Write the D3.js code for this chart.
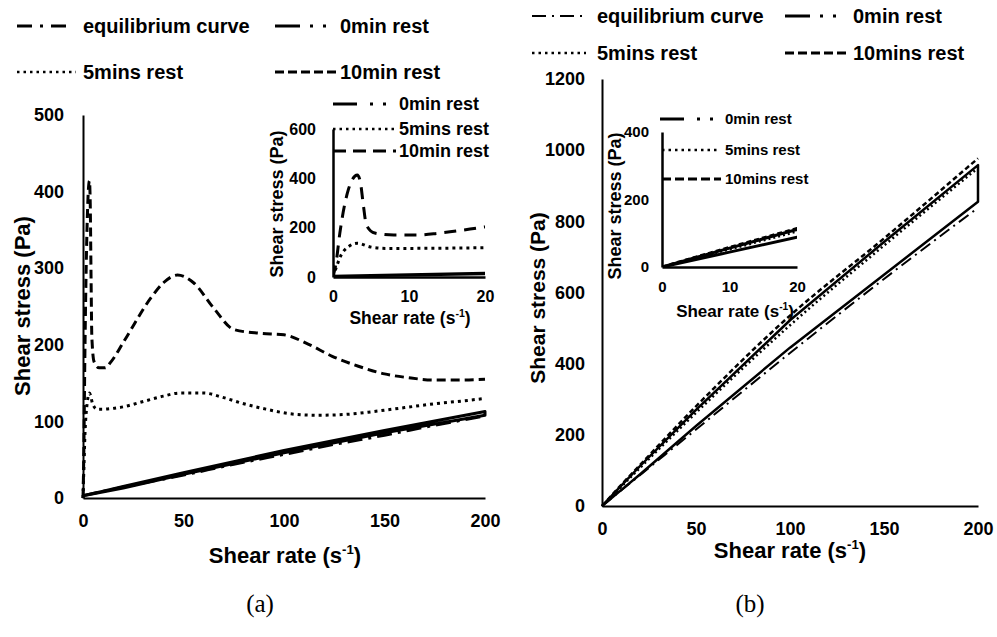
<!DOCTYPE html>
<html>
<head>
<meta charset="utf-8">
<script src="https://cdn.jsdelivr.net/npm/d3@7"></script>
<style>
body { margin: 0; background: #fff; }
svg text { font-family: "Liberation Sans", Arial, sans-serif; font-weight: bold; fill: #000; }
</style>
</head>
<body>
<div id="main"></div>
<script>
// tick values
const rateTicks = [0, 50, 100, 150, 200];
const stressTicksA = [0, 100, 200, 300, 400, 500];
const stressTicksB = [0, 200, 400, 600, 800, 1000, 1200];
const insetRateTicks = [0, 10, 20];
const insetStressTicksA = [0, 200, 400, 600];
const insetStressTicksB = [0, 200, 400];

// (a) [shear rate, shear stress]
const eqA = [[0,3],[25,17],[50,30],[75,44],[100,57],[125,70],[150,82],[175,95],[200,107]];
const zeroA = [[0,3],[10,9],[20,15],[50,33],[100,62],[150,88],[200,113],[200,108],[150,85],[100,59],[50,31],[20,13],[0,3]];
const fiveA = [[0,0],[0.4,36],[1,85],[2,122],[3.2,137],[4.9,122],[7,116],[10,116],[15,117],[20,119],[30,126],[40,133],[48,137],[60,137],[70,131],[80,123],[91,116],[103,110],[116,108],[130,109],[145,113],[160,118],[175,123],[190,127],[200,130]];
const tenA = [[0,0],[0.4,57],[0.9,178],[2,352],[3.2,414],[3.6,385],[4,290],[4.4,210],[5.5,178],[8,170],[11,170],[14,178],[20,203],[34,262],[40,281],[47,291],[55,281],[65,248],[75,220],[88,215],[100,213],[112,201],[124,185],[137,172],[150,162],[162,157],[175,154],[187,154],[200,155]];

// (b) [shear rate, shear stress]
const eqB = [[0,0],[10,43],[20,86],[50,215],[100,430],[150,638],[200,838]];
const zeroB = [[0,0],[10,56],[20,111],[50,270],[100,522],[150,742],[200,958],[200,855],[150,650],[100,445],[50,225],[20,88],[10,44],[0,0]];
const fiveB = [[0,0],[10,53],[20,106],[50,262],[100,508],[150,732],[200,950]];
const tenB = [[0,0],[10,58],[20,114],[50,280],[100,535],[150,752],[200,977]];

const svg = d3.select("#main").append("svg").attr("width", 997).attr("height", 637);
svg.append("rect").attr("width", 997).attr("height", 637).attr("fill", "#fff");

// scales
const xA = d3.scaleLinear().domain([0, 200]).range([83, 485]);
const yA = d3.scaleLinear().domain([0, 500]).range([498, 115]);
const xAi = d3.scaleLinear().domain([0, 20]).range([333, 485]);
const yAi = d3.scaleLinear().domain([0, 600]).range([277, 129]);
const xB = d3.scaleLinear().domain([0, 200]).range([602, 978]);
const yB = d3.scaleLinear().domain([0, 1200]).range([506, 79]);
const xBi = d3.scaleLinear().domain([0, 20]).range([662, 797]);
const yBi = d3.scaleLinear().domain([0, 400]).range([267, 132]);

function drawAxes(xs, ys, xTicks, yTicks, o) {
    const gx = svg.append("g").attr("transform", `translate(0,${ys.range()[0]})`)
        .call(d3.axisBottom(xs).tickValues(xTicks).tickFormat(d3.format("d"))
              .tickSize(0).tickPadding(o.padX));
    const gy = svg.append("g").attr("transform", `translate(${xs.range()[0]},0)`)
        .call(d3.axisLeft(ys).tickValues(yTicks).tickFormat(d3.format("d"))
              .tickSize(0).tickPadding(o.padY));
    [gx, gy].forEach(function(g) {
        g.select(".domain").attr("stroke", "#000").attr("stroke-width", o.lw);
        g.selectAll("text").attr("font-size", o.font);
    });
}

// loops (up + down ramps) are drawn straight, the rest smoothed
function drawSeries(xs, ys, data, st, clipId, loop) {
    const line = d3.line()
        .x(d => xs(d[0])).y(d => ys(d[1]))
        .curve(loop ? d3.curveLinear : d3.curveMonotoneX);
    const p = svg.append("path")
        .attr("d", line(data))
        .attr("fill", "none")
        .attr("stroke", "#000")
        .attr("stroke-width", st.w)
        .attr("stroke-linejoin", "round")
        .attr("stroke-dasharray", st.dash);
    if (clipId) p.attr("clip-path", `url(#${clipId})`);
}

function clipRect(id, xs, ys) {
    svg.append("clipPath").attr("id", id).append("rect")
        .attr("x", xs.range()[0]).attr("y", ys.range()[1])
        .attr("width", xs.range()[1] - xs.range()[0])
        .attr("height", ys.range()[0] - ys.range()[1]);
}

function rateTitle(cx, cy, size) {
    const t = svg.append("text").attr("x", cx).attr("y", cy + size * 0.35)
        .attr("text-anchor", "middle").attr("font-size", size);
    t.append("tspan").text("Shear rate (s");
    t.append("tspan").text("-1").attr("font-size", size * 0.6).attr("dy", -size * 0.38);
    t.append("tspan").text(")").attr("dy", size * 0.38);
}

function stressTitle(cx, cy, size) {
    svg.append("text").attr("transform", `translate(${cx},${cy}) rotate(-90)`)
        .attr("text-anchor", "middle").attr("dy", "0.35em")
        .attr("font-size", size).text("Shear stress (Pa)");
}

function legendItem(x1, x2, y, tx, label, st, size) {
    svg.append("line").attr("x1", x1).attr("x2", x2).attr("y1", y).attr("y2", y)
        .attr("stroke", "#000").attr("stroke-width", st.w)
        .attr("stroke-dasharray", st.dash);
    svg.append("text").attr("x", tx).attr("y", y).attr("dy", "0.35em")
        .attr("font-size", size).text(label);
}

// line styles
const S = {
    eqA: { w: 3, dash: "15,6,3,6" },
    zeroA: { w: 3, dash: null },
    fiveA: { w: 3, dash: "3,4" },
    tenA: { w: 3, dash: "9,5" },
    tenAi: { w: 3, dash: "12,8" },
    eqB: { w: 2, dash: "12,5,2,5" },
    zeroB: { w: 2.5, dash: null },
    fiveB: { w: 2.5, dash: "2,3" },
    tenB: { w: 2.5, dash: "5,3" },
    legEq: { w: 3, dash: "15,8,3,8" },
    legZero: { w: 3, dash: "25,10,3,10,3,40" },
    legFive: { w: 2.5, dash: "2.5,4" },
    legTen: { w: 3, dash: "9,4" },
    legEqB: { w: 2, dash: "14,6,2,6" },
    legZeroI: { w: 3, dash: "24,13,3,10,3,40" },
    legTenI: { w: 3, dash: "13,7" }
};

// ---------- panel (a) ----------
drawAxes(xA, yA, rateTicks, stressTicksA, { padX: 16, padY: 19, lw: 2, font: 18 });
drawSeries(xA, yA, eqA, S.eqA);
drawSeries(xA, yA, zeroA, S.zeroA, null, true);
drawSeries(xA, yA, fiveA, S.fiveA);
drawSeries(xA, yA, tenA, S.tenA);
stressTitle(22, 306, 22);
rateTitle(285, 555, 22);

// inset (a)
clipRect("clipAi", xAi, yAi);
drawAxes(xAi, yAi, insetRateTicks, insetStressTicksA, { padX: 14, padY: 17, lw: 2.5, font: 16 });
drawSeries(xAi, yAi, zeroA, S.zeroA, "clipAi", true);
drawSeries(xAi, yAi, fiveA, S.fiveA, "clipAi");
drawSeries(xAi, yAi, tenA, S.tenAi, "clipAi");
stressTitle(277, 204, 18);
rateTitle(410, 318, 17.5);
legendItem(333, 390, 104, 399, "0min rest", S.legZeroI, 18);
legendItem(333, 395, 129, 399, "5mins rest", S.legFive, 18);
legendItem(333, 396, 151, 399, "10min rest", S.legTenI, 18);

// legend (a)
legendItem(17, 68, 26, 83, "equilibrium curve", S.legEq, 20);
legendItem(275, 330, 26, 340, "0min rest", S.legZero, 20);
legendItem(17, 76, 72, 83, "5mins rest", S.legFive, 20);
legendItem(275, 338, 72, 340, "10min rest", S.legTen, 20);

// ---------- panel (b) ----------
drawAxes(xB, yB, rateTicks, stressTicksB, { padX: 16, padY: 17, lw: 2, font: 18 });
drawSeries(xB, yB, eqB, S.eqB);
drawSeries(xB, yB, zeroB, S.zeroB, null, true);
drawSeries(xB, yB, fiveB, S.fiveB);
drawSeries(xB, yB, tenB, S.tenB);
stressTitle(538, 298, 21);
rateTitle(790, 550, 22);

// inset (b)
clipRect("clipBi", xBi, yBi);
drawAxes(xBi, yBi, insetRateTicks, insetStressTicksB, { padX: 14, padY: 13, lw: 2.5, font: 15 });
drawSeries(xBi, yBi, zeroB, { w: 3, dash: null }, "clipBi", true);
drawSeries(xBi, yBi, fiveB, { w: 3, dash: "2,3" }, "clipBi");
drawSeries(xBi, yBi, tenB, { w: 3, dash: "5,3" }, "clipBi");
stressTitle(615, 206, 18);
rateTitle(735, 311, 17);
legendItem(660, 715, 119, 725, "0min rest", S.legZeroI, 15);
legendItem(662, 720, 150, 725, "5mins rest", S.legFive, 15);
legendItem(662, 721, 179, 725, "10mins rest", S.legTen, 15);

// legend (b)
legendItem(532, 585, 16, 597, "equilibrium curve", S.legEqB, 20);
legendItem(785, 840, 16, 853, "0min rest", S.legZero, 20);
legendItem(532, 586, 53, 597, "5mins rest", S.legFive, 20);
legendItem(785, 848, 53, 853, "10mins rest", S.legTen, 20);

// captions
[["(a)", 260], ["(b)", 750]].forEach(function(c) {
    svg.append("text").attr("x", c[1]).attr("y", 603).attr("dy", "0.35em")
        .attr("text-anchor", "middle").attr("font-size", 25)
        .style("font-family", "'Liberation Serif', 'Times New Roman', serif")
        .style("font-weight", "normal")
        .text(c[0]);
});
</script>
</body>
</html>
